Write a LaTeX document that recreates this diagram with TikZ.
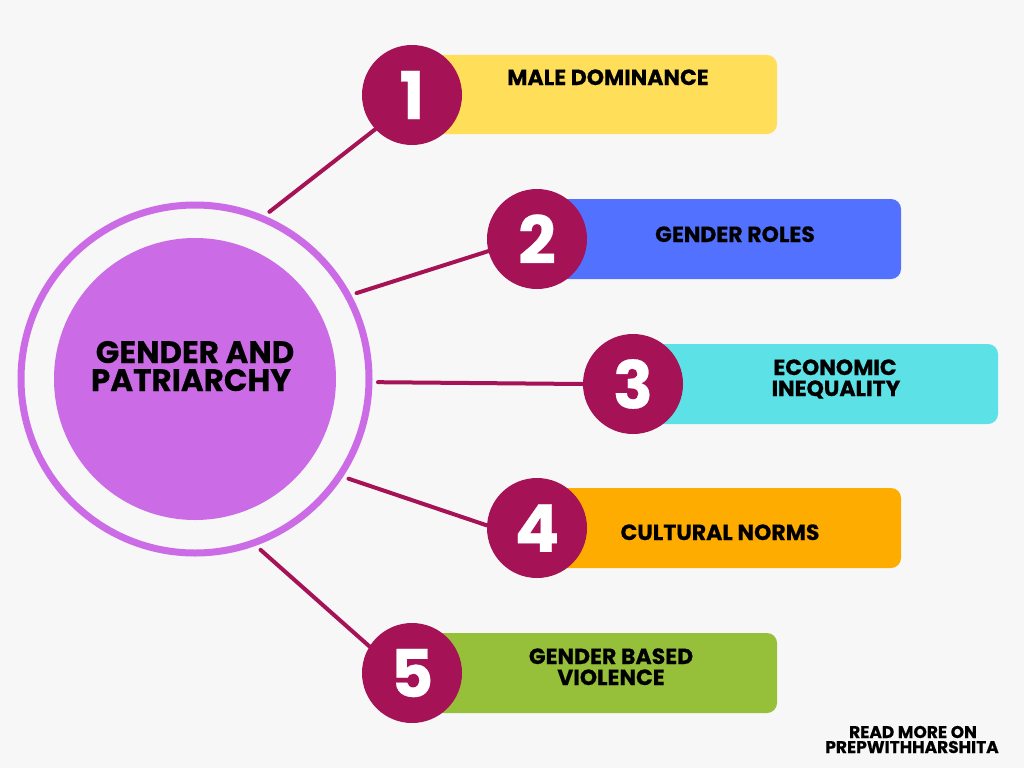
\documentclass[tikz,border=0pt]{standalone}
\usepackage{fontspec}
\setmainfont{Poppins}[BoldFeatures={FakeBold=0.4}]
\definecolor{bg}{HTML}{F7F7F7}
\definecolor{mag}{HTML}{A51256}
\definecolor{purp}{HTML}{CB6CE6}
\definecolor{cyel}{HTML}{FFDE59}
\definecolor{cblu}{HTML}{5271FF}
\definecolor{ccya}{HTML}{5CE1E6}
\definecolor{cora}{HTML}{FFAC00}
\definecolor{cgrn}{HTML}{96BF3A}
\tikzset{
  numc/.style={circle, fill=mag, minimum size=100, inner sep=0, text=white,
    font=\fontsize{66}{66}\selectfont\bfseries},
  bar/.style={rounded corners=10},
  lbl/.style={anchor=base, inner sep=0, font=\fontsize{22}{22}\selectfont\bfseries},
  ctr/.style={anchor=base, inner sep=0, font=\fontsize{31}{31}\selectfont\bfseries},
  note/.style={anchor=base, inner sep=0, font=\fontsize{17}{17}\selectfont\bfseries},
  conn/.style={draw=mag, line width=4, line cap=round},
}
\begin{document}
\begin{tikzpicture}[x=1pt,y=-1pt]
\fill[bg] (0,0) rectangle (1024,768);
\useasboundingbox (0,0) rectangle (1024,768);
% bars
\fill[cyel, bar] (412,55) rectangle (777,134);
\fill[cblu, bar] (537,199) rectangle (901,279);
\fill[ccya, bar] (633,344) rectangle (998,424);
\fill[cora, bar] (537,488) rectangle (901,568);
\fill[cgrn, bar] (412,633) rectangle (777,713);
% central
\node[circle, draw=purp, line width=7, minimum size=348, inner sep=0, outer sep=9] (ring) at (195,379) {};
\node[circle, fill=purp, minimum size=282, inner sep=0] (core) at (195,379) {};
% numbered circles
\node[numc] (n1) at (412,95) {1};
\node[numc] (n2) at (537,239) {2};
\node[numc] (n3) at (633,384) {3};
\node[numc] (n4) at (537,528) {4};
\node[numc] (n5) at (412,673) {5};
% connectors
\draw[conn] (ring.66) -- (n1.223);
\draw[conn] (ring.28) -- (n2.194);
\draw[conn] (ring.-1.5) -- (n3.180);
\draw[conn] (ring.-33) -- (n4.177);
\draw[conn] (ring.-69) -- (n5.148);
% labels
\node[lbl] (t1) at (608,85) {MALE DOMINANCE};
\node[lbl] (t2) at (735,242) {GENDER ROLES};
\node[lbl] (t3a) at (835,375) {ECONOMIC};
\node[lbl] (t3b) at (836,396) {INEQUALITY};
\node[lbl] (t4) at (720,540) {CULTURAL NORMS};
\node[lbl] (t5a) at (611,664) {GENDER BASED};
\node[lbl] (t5b) at (611,685) {VIOLENCE};
\node[ctr] (ca) at (195,363) {GENDER AND};
\node[ctr] (cb) at (191,391) {PATRIARCHY};
\node[note] (r1) at (913,738) {READ MORE ON};
\node[note] (r2) at (912,753) {PREPWITHHARSHITA};
\end{tikzpicture}
\end{document}
